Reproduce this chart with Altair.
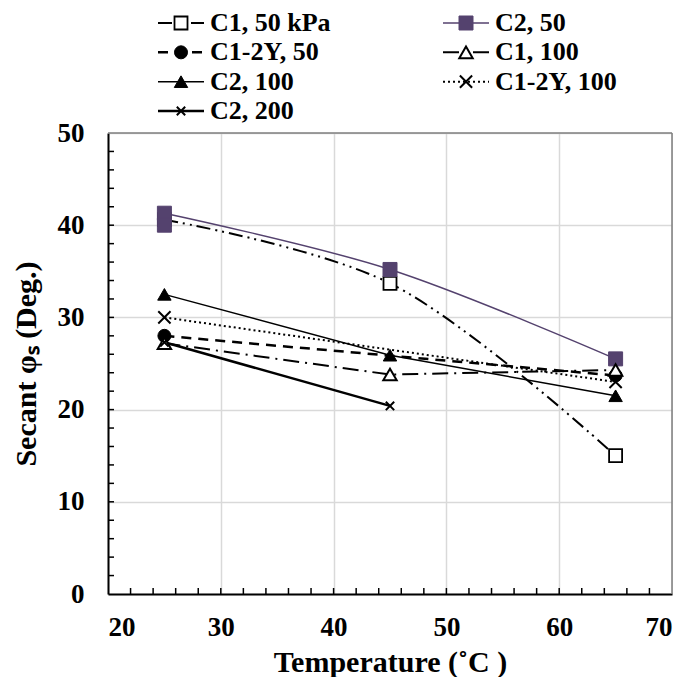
import altair as alt
import pandas as pd

# ---------------- data ----------------
series_names = ["C1, 50 kPa", "C2, 50", "C1-2Y, 50", "C1, 100", "C2, 100", "C1-2Y, 100", "C2, 200"]

c1_50_temp = [25, 45, 65]
c1_50_phi = [40.6, 33.7, 15.0]
c2_50_temp = [25, 25, 45, 65]
c2_50_phi = [41.3, 40.0, 35.2, 25.5]
c1_2y_50_temp = [25, 65]
c1_2y_50_phi = [28.0, 23.7]
c1_100_temp = [25, 45, 65]
c1_100_phi = [27.2, 23.8, 24.3]
c2_100_temp = [25, 45, 65]
c2_100_phi = [32.5, 25.9, 21.5]
c1_2y_100_temp = [25, 65]
c1_2y_100_phi = [30.0, 23.0]
c2_200_temp = [25, 45]
c2_200_phi = [27.3, 20.4]

x_tick_values = [20, 30, 40, 50, 60, 70]
y_tick_values = [0, 10, 20, 30, 40, 50]
x_minor_ticks = [22, 24, 26, 28, 30, 32, 34, 36, 38, 40, 42, 44, 46, 48,
                 50, 52, 54, 56, 58, 60, 62, 64, 66, 68]
y_minor_ticks = [2, 4, 6, 8, 10, 12, 14, 16, 18, 20, 22, 24, 26, 28,
                 30, 32, 34, 36, 38, 40, 42, 44, 46, 48]

series_data = {
    "C1, 50 kPa": (c1_50_temp, c1_50_phi),
    "C2, 50": (c2_50_temp, c2_50_phi),
    "C1-2Y, 50": (c1_2y_50_temp, c1_2y_50_phi),
    "C1, 100": (c1_100_temp, c1_100_phi),
    "C2, 100": (c2_100_temp, c2_100_phi),
    "C1-2Y, 100": (c1_2y_100_temp, c1_2y_100_phi),
    "C2, 200": (c2_200_temp, c2_200_phi),
}

# ---------------- styles ----------------
PURPLE = "#54426E"
X_PATH = "M-1,-1L1,1M-1,1L1,-1"
SERIF = "Liberation Serif"
W, H = 564, 461

styles = {
    "C1, 50 kPa": dict(color="black", dash=[14, 5, 2, 5, 2, 5], width=2, curve="catmull-rom",
                       shape="square", size=169, fill="white", sw=1.8),
    "C2, 50": dict(color=PURPLE, dash=None, width=1.5, curve="catmull-rom",
                   shape="square", size=196, fill=PURPLE, sw=1),
    "C1-2Y, 50": dict(color="black", dash=[10, 7], width=2.5, curve="linear",
                      shape="circle", size=169, fill="black", sw=1),
    "C1, 100": dict(color="black", dash=[16, 6, 2, 6], width=2, curve="linear",
                    shape="triangle-up", size=180, fill="white", sw=2),
    "C2, 100": dict(color="black", dash=None, width=1.5, curve="linear",
                    shape="triangle-up", size=180, fill="black", sw=1),
    "C1-2Y, 100": dict(color="black", dash=[2, 3], width=2, curve="linear",
                       shape=X_PATH, size=150, fill="transparent", sw=2),
    "C2, 200": dict(color="black", dash=None, width=2.5, curve="linear",
                    shape=X_PATH, size=70, fill="transparent", sw=2),
}

rows = []
for name in series_names:
    t, v = series_data[name]
    for ti, vi in zip(t, v):
        rows.append({"series": name, "temp": ti, "phi": vi})
df = pd.DataFrame(rows)

x_axis = alt.Axis(values=x_tick_values, title="Temperature (˚C )", grid=True,
                  gridColor="#d9d9d9", gridWidth=1.5, tickSize=0,
                  domainColor="black", domainWidth=2, labelPadding=20, titlePadding=7,
                  labelFont=SERIF, labelFontSize=27, labelFontWeight="bold", labelColor="black",
                  titleFont=SERIF, titleFontSize=30, titleFontWeight="bold", titleColor="black")
y_axis = alt.Axis(values=y_tick_values, title="Secant φₛ (Deg.)", grid=True,
                  gridColor="#d9d9d9", gridWidth=1.5, tickSize=0,
                  domainColor="black", domainWidth=2, labelPadding=24, titlePadding=16,
                  labelFont=SERIF, labelFontSize=27, labelFontWeight="bold", labelColor="black",
                  titleFont=SERIF, titleFontSize=30, titleFontWeight="bold", titleColor="black")
x_scale = alt.Scale(domain=[20, 70], nice=False, zero=False)
y_scale = alt.Scale(domain=[0, 50], nice=False)

X = alt.X("temp:Q", scale=x_scale, axis=x_axis)
Y = alt.Y("phi:Q", scale=y_scale, axis=y_axis)

base = alt.Chart(df)

line_layers = []
point_layers = []
for name in series_names:
    s = styles[name]
    kw = dict(color=s["color"], strokeWidth=s["width"], interpolate=s["curve"])
    if s["dash"]:
        kw["strokeDash"] = s["dash"]
    line_layers.append(
        base.transform_filter(alt.datum.series == name)
        .transform_aggregate(phi="max(phi)", groupby=["temp"])
        .mark_line(**kw).encode(x=X, y=Y)
    )
    point_layers.append(
        base.transform_filter(alt.datum.series == name)
        .mark_point(shape=s["shape"], size=s["size"], fill=s["fill"], stroke=s["color"],
                    strokeWidth=s["sw"], opacity=1, fillOpacity=1)
        .encode(x=X, y=Y)
    )

xt_df = pd.DataFrame({"temp": x_minor_ticks})
yt_df = pd.DataFrame({"phi": y_minor_ticks})
x_ticks = alt.Chart(xt_df).mark_rule(color="black", strokeWidth=1.5).encode(
    x=X, y=alt.value(H), y2=alt.value(H - 6))
y_ticks = alt.Chart(yt_df).mark_rule(color="black", strokeWidth=1.5).encode(
    y=Y, x=alt.value(0), x2=alt.value(6))
border_df = pd.DataFrame({"temp": [70], "phi": [50]})
top_border = alt.Chart(border_df).mark_rule(color="#7f7f7f", strokeWidth=1.5).encode(
    y=Y, x=alt.value(0), x2=alt.value(W))
right_border = alt.Chart(border_df).mark_rule(color="#7f7f7f", strokeWidth=1.5).encode(
    x=X, y=alt.value(0), y2=alt.value(H))

main = alt.layer(*line_layers, *point_layers, x_ticks, y_ticks, top_border, right_border)

# ---------------- legend (two columns) ----------------
legend_df = pd.DataFrame({"series": series_names, "idx": list(range(len(series_names)))})
leg = alt.Chart(legend_df).transform_calculate(
    col="datum.idx % 2", row="floor(datum.idx / 2)")
LX = alt.X("col:Q", scale=alt.Scale(domain=[0, 1], range=[50, 335]), axis=None)
LY = alt.Y("row:Q", scale=alt.Scale(domain=[0, 3], range=[-110, -22]), axis=None)

legend_layers = []
for name in series_names:
    s = styles[name]
    kw = dict(color=s["color"], strokeWidth=s["width"], xOffset=0, x2Offset=46)
    if s["dash"]:
        kw["strokeDash"] = s["dash"]
    legend_layers.append(
        leg.transform_filter(alt.datum.series == name).mark_rule(**kw)
        .encode(x=LX, x2=alt.X2("col:Q"), y=LY)
    )
    legend_layers.append(
        leg.transform_filter(alt.datum.series == name)
        .mark_point(shape=s["shape"], size=s["size"], fill=s["fill"], stroke=s["color"],
                    strokeWidth=s["sw"], opacity=1, fillOpacity=1, xOffset=23)
        .encode(x=LX, y=LY)
    )
legend_layers.append(
    leg.mark_text(align="left", baseline="middle", dx=52, font=SERIF, fontSize=26,
                  fontWeight="bold", color="black").encode(x=LX, y=LY, text="series:N")
)
legend = alt.layer(*legend_layers)

chart = alt.layer(main, legend).resolve_scale(x="independent", y="independent").properties(
    width=W, height=H, padding={"left": 3, "top": 2, "right": 0, "bottom": 0}
).configure_view(stroke=None)

chart.save("out.html", embed_options={"renderer": "svg", "actions": False})
